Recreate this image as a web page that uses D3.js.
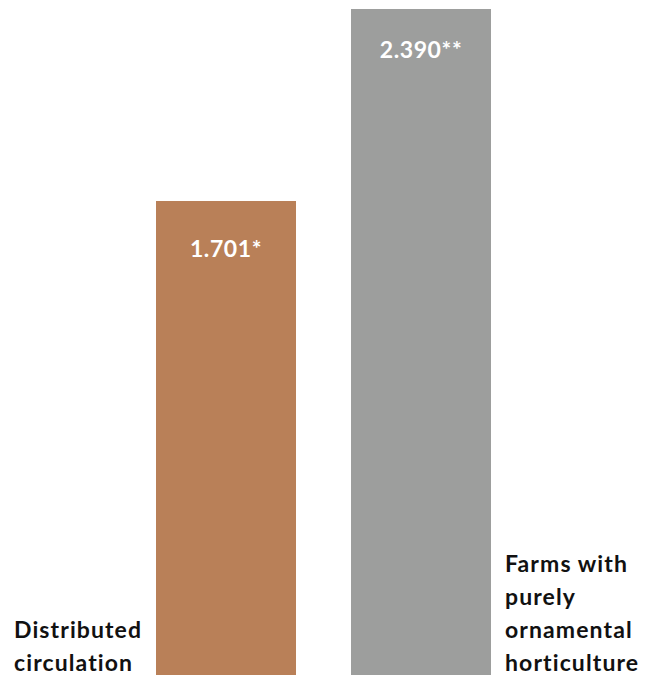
<!DOCTYPE html>
<html>
<head>
<meta charset="utf-8">
<script src="https://cdn.jsdelivr.net/npm/d3@7"></script>
<style>
  html, body { margin: 0; padding: 0; background: #ffffff; }
  svg { display: block; }
  text { font-family: Lato, "Open Sans", sans-serif; font-weight: 700; }
</style>
</head>
<body>
<svg id="chart" width="645" height="677"></svg>
<script>
// Data
const categories = ["Distributed circulation", "Farms with purely ornamental horticulture"];
const values = [1.701, 2.390];
const valueLabels = ["1.701*", "2.390**"];
const categoryLines = [["Distributed", "circulation"], ["Farms with", "purely", "ornamental", "horticulture"]];
const colors = ["#b98058", "#9d9e9d"];

const svg = d3.select("#chart");

const x = d3.scaleBand()
  .domain(categories)
  .range([156, 491])
  .paddingInner(0.282)
  .paddingOuter(0);

const y = d3.scaleLinear()
  .domain([0, 2.390])
  .range([675, 9]);

// Bars
svg.selectAll("rect.bar")
  .data(categories)
  .enter().append("rect")
  .attr("class", "bar")
  .attr("x", d => x(d))
  .attr("width", x.bandwidth())
  .attr("y", (d, i) => y(values[i]))
  .attr("height", (d, i) => y(0) - y(values[i]))
  .attr("fill", (d, i) => colors[i]);

// Value labels inside the bars
const labelDy = [56, 49];
svg.selectAll("text.value")
  .data(categories)
  .enter().append("text")
  .attr("class", "value")
  .attr("x", d => x(d) + x.bandwidth() / 2)
  .attr("y", (d, i) => y(values[i]) + labelDy[i])
  .attr("text-anchor", "middle")
  .attr("fill", "#ffffff")
  .attr("font-size", 23)
  .attr("letter-spacing", 0.6)
  .text((d, i) => valueLabels[i]);

// Category labels
const lineH = 33;
const lastBaseline = 671;
categories.forEach((c, i) => {
  const lines = categoryLines[i];
  const xPos = i === 0 ? 14 : x(c) + x.bandwidth() + 14;
  const t = svg.append("text")
    .attr("class", "cat")
    .attr("x", xPos)
    .attr("fill", "#111111")
    .attr("font-size", 23)
    .attr("letter-spacing", 1.1)
    .attr("text-anchor", "start");
  lines.forEach((ln, j) => {
    t.append("tspan")
      .attr("x", xPos)
      .attr("y", lastBaseline - (lines.length - 1 - j) * lineH)
      .text(ln);
  });
});
</script>
</body>
</html>
